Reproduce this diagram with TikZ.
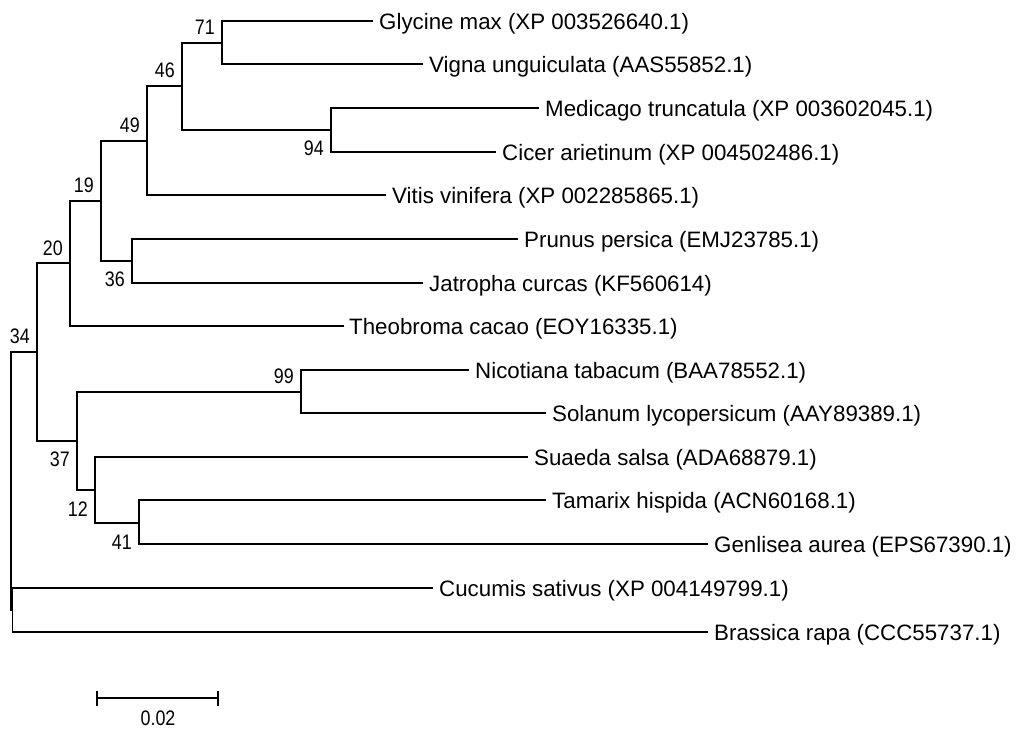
\documentclass[tikz,border=0pt]{standalone}
\usepackage{fontspec}
\setmainfont{Liberation Sans}
\newfontfamily\bsfont{Liberation Sans}[FakeStretch=0.85]
\begin{document}
\begin{tikzpicture}[x=1pt,y=-1pt,
  br/.style={draw=black, line width=1.4pt, line cap=rect},
  leaf/.style={anchor=base west, inner sep=0pt, text=black, font=\fontsize{22.3}{26}\selectfont},
  bsa/.style={anchor=base east, inner sep=0pt, text=black, font=\bsfont\fontsize{21}{23}\selectfont},
  bsb/.style={anchor=north east, inner sep=0pt, text=black, font=\bsfont\fontsize{21}{23}\selectfont}]
\useasboundingbox (0,0) rectangle (1024,736);
% internal nodes
\coordinate (root) at (11,481);
\coordinate (n34) at (37,352);
\coordinate (n20) at (70,263);
\coordinate (n19) at (101,201);
\coordinate (n49) at (147,141);
\coordinate (n46) at (182,86);
\coordinate (n71) at (222,43);
\coordinate (n94) at (331,130);
\coordinate (n36) at (132,261);
\coordinate (n37) at (77,441);
\coordinate (n99) at (301,392);
\coordinate (n12) at (95,490);
\coordinate (n41) at (139,523);
\coordinate (ncb) at (12.5,610);
% leaf ends
\coordinate (gly) at (372,21);
\coordinate (vig) at (422,64);
\coordinate (med) at (538,108);
\coordinate (cic) at (495,152);
\coordinate (vit) at (385,195);
\coordinate (pru) at (517,239);
\coordinate (jat) at (422,283);
\coordinate (the) at (343,326);
\coordinate (nic) at (468,370);
\coordinate (sol) at (545,413);
\coordinate (sua) at (527,457);
\coordinate (tam) at (545,500);
\coordinate (gen) at (707,544);
\coordinate (cuc) at (432,588);
\coordinate (bra) at (707,632);
% leaf labels
\node[leaf] (Lgly) at (379,29) {Glycine max (XP 003526640.1)};
\node[leaf] (Lvig) at (429,72) {Vigna unguiculata (AAS55852.1)};
\node[leaf] (Lmed) at (545,116) {Medicago truncatula (XP 003602045.1)};
\node[leaf] (Lcic) at (502,160) {Cicer arietinum (XP 004502486.1)};
\node[leaf] (Lvit) at (392,203) {Vitis vinifera (XP 002285865.1)};
\node[leaf] (Lpru) at (524,247) {Prunus persica (EMJ23785.1)};
\node[leaf] (Ljat) at (429,291) {Jatropha curcas (KF560614)};
\node[leaf] (Lthe) at (349,334) {Theobroma cacao (EOY16335.1)};
\node[leaf] (Lnic) at (475,378) {Nicotiana tabacum (BAA78552.1)};
\node[leaf] (Lsol) at (552,421) {Solanum lycopersicum (AAY89389.1)};
\node[leaf] (Lsua) at (534,465) {Suaeda salsa (ADA68879.1)};
\node[leaf] (Ltam) at (552,508) {Tamarix hispida (ACN60168.1)};
\node[leaf] (Lgen) at (714,552) {Genlisea aurea (EPS67390.1)};
\node[leaf] (Lcuc) at (439,596) {Cucumis sativus (XP 004149799.1)};
\node[leaf] (Lbra) at (714,640) {Brassica rapa (CCC55737.1)};
% branches
\draw[br] (root) |- (n34);
\draw[br] (root) |- (ncb);
\draw[br] (n34) |- (n20);
\draw[br] (n34) |- (n37);
\draw[br] (n20) |- (n19);
\draw[br] (n20) |- (the);
\draw[br] (n19) |- (n49);
\draw[br] (n19) |- (n36);
\draw[br] (n49) |- (n46);
\draw[br] (n49) |- (vit);
\draw[br] (n46) |- (n71);
\draw[br] (n46) |- (n94);
\draw[br] (n71) |- (gly);
\draw[br] (n71) |- (vig);
\draw[br] (n94) |- (med);
\draw[br] (n94) |- (cic);
\draw[br] (n36) |- (pru);
\draw[br] (n36) |- (jat);
\draw[br] (n37) |- (n99);
\draw[br] (n37) |- (n12);
\draw[br] (n99) |- (nic);
\draw[br] (n99) |- (sol);
\draw[br] (n12) |- (sua);
\draw[br] (n12) |- (n41);
\draw[br] (n41) |- (tam);
\draw[br] (n41) |- (gen);
\draw[br] (ncb) |- (cuc);
\draw[br] (ncb) |- (bra);
% bootstrap values
\node[bsa] (b71) at (215,34) {71};
\node[bsa] (b46) at (175,77) {46};
\node[bsa] (b49) at (140,132) {49};
\node[bsa] (b19) at (94,192) {19};
\node[bsa] (b20) at (63,255) {20};
\node[bsa] (b34) at (30,343) {34};
\node[bsa] (b99) at (294,383) {99};
\node[bsb] (b94) at (324,141) {94};
\node[bsb] (b36) at (125,272) {36};
\node[bsb] (b37) at (70,452) {37};
\node[bsb] (b12) at (88,502) {12};
\node[bsb] (b41) at (132,535) {41};
% scale bar
\coordinate (sbL) at (97,698);
\coordinate (sbR) at (218,698);
\coordinate (sbLt) at (97,692);
\coordinate (sbLb) at (97,705);
\coordinate (sbRt) at (218,692);
\coordinate (sbRb) at (218,705);
\draw[br] (sbL) -- (sbR);
\draw[br] (sbLt) -- (sbLb);
\draw[br] (sbRt) -- (sbRb);
\node[anchor=base, inner sep=0pt, font=\bsfont\fontsize{21}{23}\selectfont] (sblab) at (158,725) {0.02};
\end{tikzpicture}
\end{document}
